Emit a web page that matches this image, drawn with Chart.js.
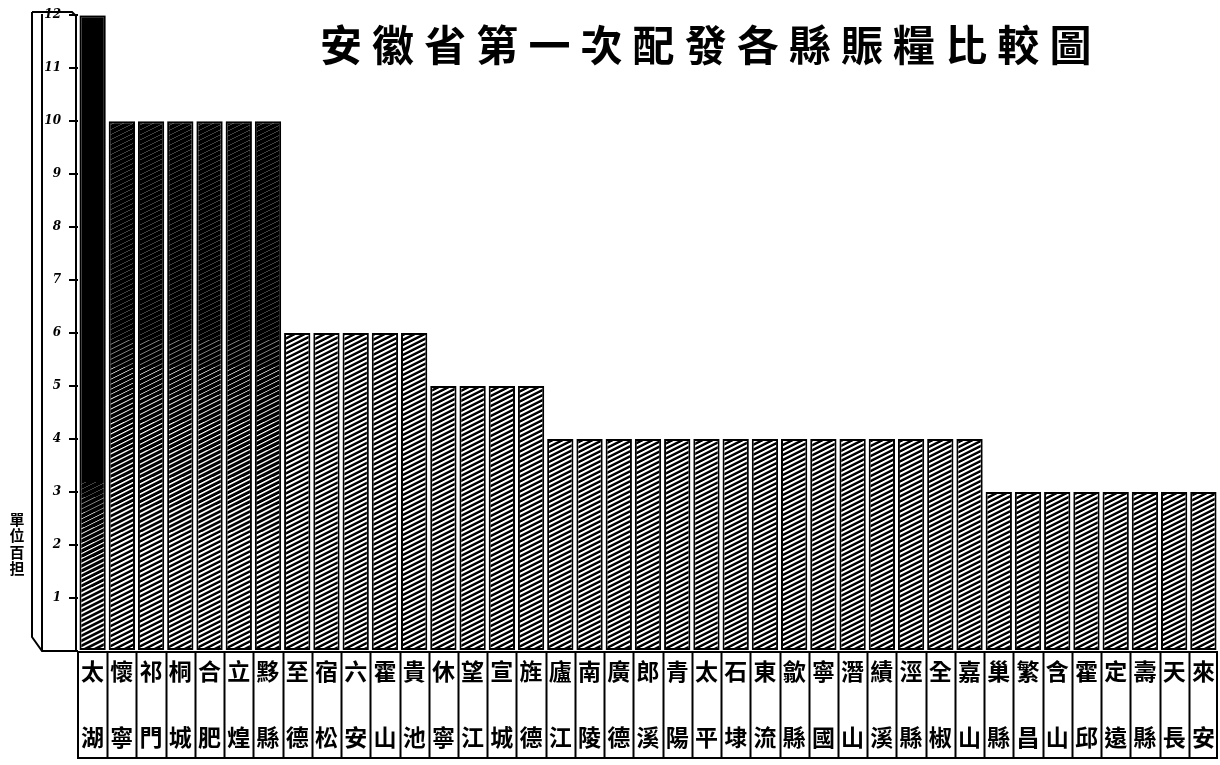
<!DOCTYPE html>
<html>
<head>
<meta charset="utf-8">
<script src="https://cdn.jsdelivr.net/npm/chart.js@4.4.1/dist/chart.umd.min.js"></script>
<style>
  html, body { margin: 0; padding: 0; background: #fff; }
  #wrap { width: 1220px; height: 765px; position: relative; }
</style>
</head>
<body>
<div id="wrap"><canvas id="grafico"></canvas></div>
<script>
// 縣名：上字 / 下字
var topChars = ['太','懷','祁','桐','合','立','黟','至','宿','六','霍','貴','休','望','宣','旌',
  '廬','南','廣','郎','青','太','石','東','歙','寧','潛','績','涇','全','嘉',
  '巢','繁','含','霍','定','壽','天','來'];
var bottomChars = ['湖','寧','門','城','肥','煌','縣','德','松','安','山','池','寧','江','城','德',
  '江','陵','德','溪','陽','平','埭','流','縣','國','山','溪','縣','椒','山',
  '縣','昌','山','邱','遠','縣','長','安'];
// 賑糧 (單位百担)
var values = [12, 10, 10, 10, 10, 10, 10,
  6, 6, 6, 6, 6,
  5, 5, 5, 5,
  4, 4, 4, 4, 4, 4, 4, 4, 4, 4, 4, 4, 4, 4, 4,
  3, 3, 3, 3, 3, 3, 3, 3];
var yTicks = [0, 1, 2, 3, 4, 5, 6, 7, 8, 9, 10, 11, 12];
var titleText = '安徽省第一次配發各縣賑糧比較圖';
var unitChars = ['單', '位', '百', '担'];

var cjk = '"Noto Sans CJK TC", "Noto Sans CJK SC", sans-serif';

// 斜線紋理 (thick(y) 決定黑線粗細)
function makeHatch(thick) {
  var w = 10, h = 765, P = 5;
  var c = document.createElement('canvas');
  c.width = w; c.height = h;
  var g = c.getContext('2d');
  var img = g.createImageData(w, h);
  for (var y = 0; y < h; y++) {
    var t = thick(y);
    for (var x = 0; x < w; x++) {
      var cov = 0;
      for (var s = 0; s < 4; s++) {
        var px = x + 0.25 + (s % 2) * 0.5, py = y + 0.25 + Math.floor(s / 2) * 0.5;
        var ph = ((py + 0.5 * px) % P + P) % P;
        if (ph < t) cov++;
      }
      var v = 255 - Math.round(cov / 4 * 255);
      var k = (y * w + x) * 4;
      img.data[k] = v; img.data[k + 1] = v; img.data[k + 2] = v; img.data[k + 3] = 255;
    }
  }
  g.putImageData(img, 0, 0);
  return g.createPattern(c, 'repeat');
}
function ramp(y, y0, y1, a, b) {
  if (y <= y0) return a;
  if (y >= y1) return b;
  return a + (b - a) * (y - y0) / (y1 - y0);
}
var darkA = makeHatch(function (y) { return ramp(y, 480, 600, 4.9, 2.9); });
var darkB = makeHatch(function (y) { return ramp(y, 320, 540, 4.8, 2.8); });
var plain = makeHatch(function () { return 2.8; });
var fills = values.map(function (v, i) { return i === 0 ? darkA : (i < 7 ? darkB : plain); });

var labels = topChars.map(function (c, i) { return [c, '', bottomChars[i]]; });

// 標題、單位、刻度框、縣名表格
var decor = {
  id: 'decor',
  afterDraw: function (chart) {
    var ctx = chart.ctx, x = chart.scales.x, area = chart.chartArea;
    ctx.save();
    ctx.fillStyle = '#000';
    ctx.textAlign = 'center';
    ctx.textBaseline = 'middle';
    ctx.font = '600 42px ' + cjk;
    for (var i = 0; i < titleText.length; i++) {
      ctx.fillText(titleText[i], 341 + i * 52.1, 45);
    }
    ctx.font = 'bold 15px ' + cjk;
    unitChars.forEach(function (c, i) { ctx.fillText(c, 17, 519 + i * 16.5); });

    ctx.strokeStyle = '#000';
    ctx.lineWidth = 2;
    ctx.beginPath();
    ctx.moveTo(32, 12); ctx.lineTo(32, 637); ctx.lineTo(42, 651); ctx.lineTo(76, 651);
    ctx.moveTo(42, 14); ctx.lineTo(42, 651);
    ctx.moveTo(76, 16); ctx.lineTo(76, 651);
    ctx.moveTo(32, 12); ctx.lineTo(72, 12); ctx.lineTo(76, 16);
    ctx.stroke();

    var half = (x.getPixelForValue(1) - x.getPixelForValue(0)) / 2;
    var top = area.bottom + 1, bot = 758;
    ctx.beginPath();
    ctx.rect(area.left, top, area.right - area.left - 1, bot - top);
    for (var j = 1; j < topChars.length; j++) {
      var px = Math.round(x.getPixelForValue(j) - half) + 0.5;
      ctx.moveTo(px, top); ctx.lineTo(px, bot);
    }
    ctx.stroke();
    ctx.restore();
  }
};

var ctx = document.getElementById('grafico').getContext('2d');
new Chart(ctx, {
  type: 'bar',
  data: {
    labels: labels,
    datasets: [{
      data: values,
      backgroundColor: fills,
      borderColor: '#000',
      borderWidth: 2,
      borderSkipped: false,
      barPercentage: 0.9,
      categoryPercentage: 1
    }]
  },
  options: {
    responsive: true,
    maintainAspectRatio: false,
    animation: false,
    layout: { padding: { left: 0, right: 2, top: 15, bottom: 6 } },
    plugins: { legend: { display: false }, tooltip: { enabled: false } },
    scales: {
      x: {
        grid: { display: false, drawTicks: false },
        border: { display: false },
        ticks: {
          autoSkip: false, maxRotation: 0, minRotation: 0, padding: 4,
          color: '#000',
          font: { family: cjk, size: 23, weight: 'bold', lineHeight: 33 / 23 }
        },
        afterFit: function (s) { s.height = 108; }
      },
      y: {
        min: 0, max: 12,
        afterBuildTicks: function (s) { s.ticks = yTicks.map(function (v) { return { value: v }; }); },
        grid: { drawOnChartArea: false, drawTicks: true, tickLength: 9, color: '#000', lineWidth: 2 },
        border: { display: false },
        ticks: {
          padding: 8, color: '#000',
          font: { family: '"DejaVu Serif", serif', size: 12, style: 'italic', weight: 'bold' },
          callback: function (v) { return v === 0 ? '' : v; }
        },
        afterFit: function (s) { s.width = 78; }
      }
    }
  },
  plugins: [decor]
});
</script>
</body>
</html>
